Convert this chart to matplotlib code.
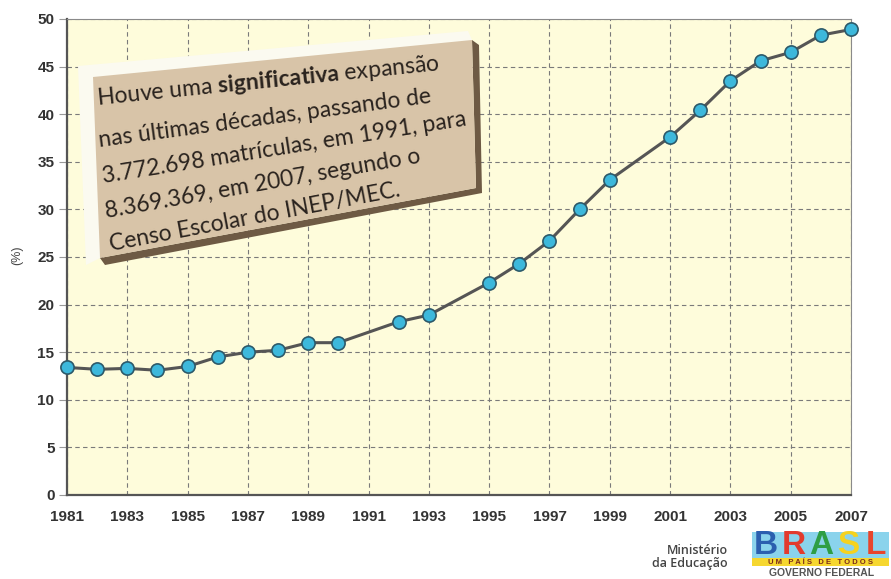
import matplotlib
matplotlib.use("Agg")
import matplotlib.pyplot as plt
from matplotlib.patches import Polygon, Rectangle

# dados (anos sem ponto: 1991, 1994, 2000)
anos = [1981, 1982, 1983, 1984, 1985, 1986, 1987, 1988, 1989, 1990,
        1992, 1993, 1995, 1996, 1997, 1998, 1999,
        2001, 2002, 2003, 2004, 2005, 2006, 2007]
percentual = [13.4, 13.2, 13.3, 13.1, 13.5, 14.5, 15.0, 15.2, 16.0, 16.0,
              18.2, 18.9, 22.3, 24.3, 26.7, 30.0, 33.1,
              37.6, 40.4, 43.5, 45.6, 46.5, 48.3, 48.9]
xticks = list(range(1981, 2008, 2))
yticks = list(range(0, 51, 5))

caixa_linhas = [
    r"Houve uma $\mathbf{significativa}$ expansão",
    "nas últimas décadas, passando de",
    "3.772.698 matrículas, em 1991, para",
    "8.369.369, em 2007, segundo o",
    "Censo Escolar do INEP/MEC.",
]

plt.rcParams['font.family'] = ['Liberation Sans', 'DejaVu Sans']
plt.rcParams['mathtext.fontset'] = 'custom'
plt.rcParams['mathtext.rm'] = 'Lato'
plt.rcParams['mathtext.bf'] = 'Lato:bold'

W, H = 891, 579
fig = plt.figure(figsize=(W / 100, H / 100), dpi=100)
fig.patch.set_facecolor('white')


def P(x, y):
    # pixel (a partir do topo) -> fracao da figura
    return (x / W, 1 - y / H)


ax = fig.add_axes([67 / W, 1 - 495 / H, (851 - 67) / W, (495 - 19) / H])
ax.set_facecolor('#FEFCDB')
ax.set_xlim(1981, 2007)
ax.set_ylim(0, 50)
ax.set_xticks(xticks)
ax.set_xticklabels([str(t) for t in xticks], fontsize=11, fontweight='bold',
                   family='Liberation Sans', color='#333333')
ax.set_yticks(yticks)
ax.set_yticklabels([str(t) for t in yticks], fontsize=11, fontweight='bold',
                   family='Liberation Sans', color='#333333')
ax.grid(True, color='#7a7a7a', linestyle=(0, (4, 3)), linewidth=0.8)
ax.set_axisbelow(True)

for s in ['left', 'bottom']:
    ax.spines[s].set_color('#555555')
    ax.spines[s].set_linewidth(1.6)
for s in ['top', 'right']:
    ax.spines[s].set_color('#8a8a8a')
    ax.spines[s].set_linewidth(0.8)

ax.tick_params(axis='x', length=0, pad=11)
ax.tick_params(axis='y', length=6, width=0.8, color='#999999', pad=3)

ax.plot(anos, percentual, color='#555555', lw=2.2, marker='o', markersize=9.5,
        markerfacecolor='#3DB8DB', markeredgecolor='#2d5a6a', markeredgewidth=1.2,
        clip_on=False, zorder=3)

fig.text(17 / W, 1 - 255 / H, '(%)', rotation=90, ha='center', va='center',
         fontsize=9, color='#444444')

# caixa de texto inclinada
branco = Polygon([P(78, 66), P(468, 31), P(472, 40), P(100, 258), P(86, 265)],
                 closed=True, transform=fig.transFigure, facecolor='#FBFAF0',
                 edgecolor='none', zorder=4)
sombra = Polygon([P(472, 40), P(479, 45), P(482, 193), P(105, 265), P(100, 258), P(476, 188)],
                 closed=True, transform=fig.transFigure, facecolor='#6E5A44',
                 edgecolor='none', zorder=4)
bege = Polygon([P(93, 77), P(472, 40), P(476, 188), P(100, 258)],
               closed=True, transform=fig.transFigure, facecolor='#D8C4A8',
               edgecolor='none', zorder=5)
fig.patches.extend([branco, sombra, bege])

pos_linhas = [(97, 105, 5.8), (99, 147, 7.6), (103, 183, 9.0), (106, 218, 10.0), (111, 251, 10.7)]
for txt, (x, y, ang) in zip(caixa_linhas, pos_linhas):
    fig.text(*P(x, y), txt, rotation=ang, rotation_mode='anchor', ha='left',
             va='baseline', fontsize=16.5, family='Lato', color='#2a231e', zorder=6)

# rodape: ministerio e logo
fig.text(*P(728, 550), 'Ministério', ha='right', va='center', fontsize=9,
         family='Open Sans', fontweight='semibold', color='#444444')
fig.text(*P(728, 563), 'da Educação', ha='right', va='center', fontsize=9,
         family='Open Sans', fontweight='semibold', color='#444444')

fig.patches.append(Rectangle(P(752, 558), 137 / W, 26 / H, transform=fig.transFigure,
                             facecolor='#8AD3EC', edgecolor='none'))
fig.patches.append(Rectangle(P(752, 566), 137 / W, 8 / H, transform=fig.transFigure,
                             facecolor='#F6D730', edgecolor='none'))
letras = ['B', 'R', 'A', 'S', 'L']
cores_letras = ['#2B5FAF', '#E23B2E', '#2E9E45', '#F5D21F', '#E8452C']
for i, (l, c) in enumerate(zip(letras, cores_letras)):
    fig.text(*P(766 + i * 27.5, 546), l, ha='center', va='center', fontsize=24,
             fontweight='bold', color=c)
fig.text(*P(820, 562), 'U M   P A Í S   D E   T O D O S', ha='center', va='center',
         fontsize=5.5, fontweight='bold', color='#7a2a1a')
fig.text(*P(822, 573), 'GOVERNO FEDERAL', ha='center', va='center', fontsize=7.5,
         fontweight='bold', color='#555555')

fig.savefig('out.png', dpi=100)
